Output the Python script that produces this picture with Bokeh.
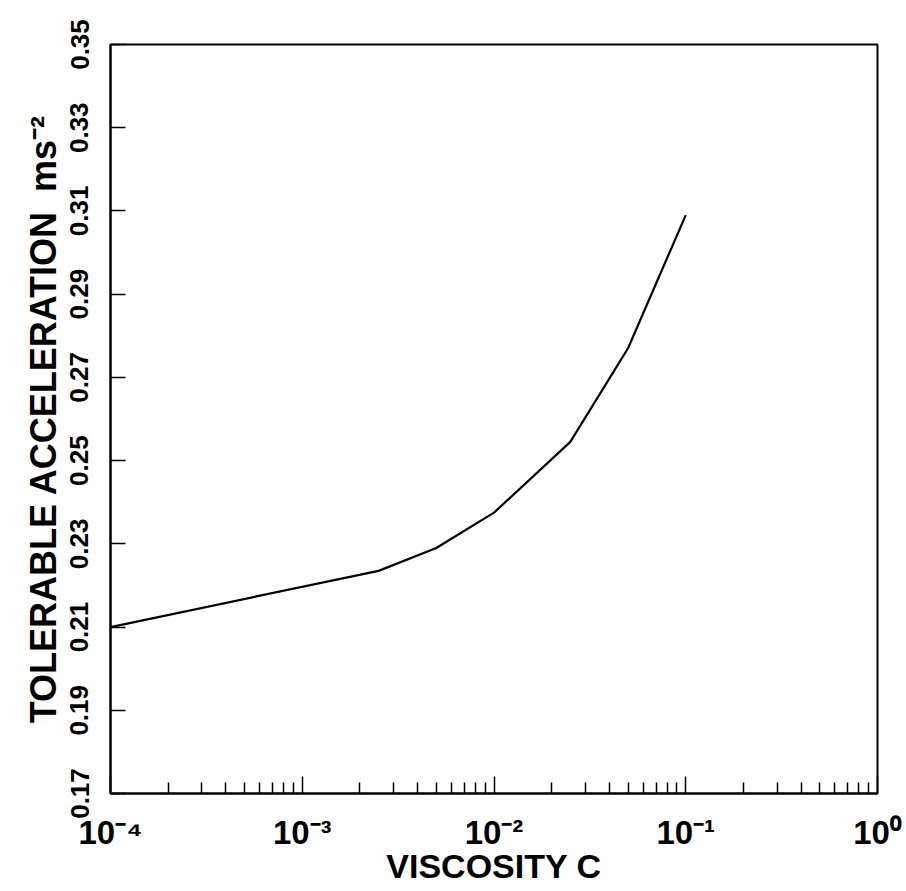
from bokeh.plotting import figure
from bokeh.models import FixedTicker, CustomJSTickFormatter
from bokeh.embed import file_html
from bokeh.resources import INLINE

# ---- data ----
viscosity = [1e-4, 2.5e-3, 5e-3, 1e-2, 2.5e-2, 5e-2, 1e-1]
tolerable_accel = [0.210, 0.2235, 0.229, 0.2375, 0.2545, 0.277, 0.309]

x_decades = [1e-4, 1e-3, 1e-2, 1e-1, 1e0]
x_tick_labels = ["10\u207b\u2074", "10\u207b\u00b3", "10\u207b\u00b2", "10\u207b\u00b9", "10\u2070"]
x_minor_mult = [2, 3, 4, 5, 6, 7, 8, 9]
y_ticks = [0.17, 0.19, 0.21, 0.23, 0.25, 0.27, 0.29, 0.31, 0.33, 0.35]
y_tick_labels = ["0.17", "0.19", "0.21", "0.23", "0.25", "0.27", "0.29", "0.31", "0.33", "0.35"]

x_title = "VISCOSITY C"
y_title = "TOLERABLE ACCELERATION\u00a0\u00a0ms\u207b\u00b2"

FONT = "Liberation Sans"

p = figure(width=906, height=891, x_axis_type="log",
           x_range=(x_decades[0], x_decades[-1]), y_range=(y_ticks[0], y_ticks[-1]),
           output_backend="svg", toolbar_location=None,
           min_border_left=110, min_border_right=29, min_border_top=44, min_border_bottom=98)
p.grid.visible = False
p.background_fill_color = "white"
p.border_fill_color = "white"
p.outline_line_color = "black"
p.outline_line_width = 2
p.outline_line_alpha = 1.0

# x axis
minor = [m * d for d in x_decades[:-1] for m in x_minor_mult]
xa = p.xaxis[0]
xa.ticker = FixedTicker(ticks=x_decades, minor_ticks=minor)
xa.formatter = CustomJSTickFormatter(args=dict(tvals=x_decades, tlabels=x_tick_labels), code="""
let best = 0;
for (let i = 0; i < tvals.length; i++) {
  if (Math.abs(Math.log10(tick) - Math.log10(tvals[i])) <
      Math.abs(Math.log10(tick) - Math.log10(tvals[best]))) { best = i; }
}
return tlabels[best];
""")
xa.axis_line_width = 2
xa.axis_line_color = "black"
xa.major_tick_in = 17
xa.major_tick_out = 0
xa.minor_tick_in = 11
xa.minor_tick_out = 0
xa.major_tick_line_width = 1.5
xa.minor_tick_line_width = 1.5
xa.major_label_text_font = FONT
xa.major_label_text_font_style = "bold"
xa.major_label_text_font_size = "33px"
xa.major_label_text_color = "black"
xa.major_label_standoff = 20
xa.axis_label = x_title
xa.axis_label_text_font = FONT
xa.axis_label_text_font_style = "bold"
xa.axis_label_text_font_size = "34px"
xa.axis_label_text_color = "black"
xa.axis_label_standoff = -7

# y axis
ya = p.yaxis[0]
ya.ticker = FixedTicker(ticks=y_ticks)
ya.formatter = CustomJSTickFormatter(args=dict(tvals=y_ticks, tlabels=y_tick_labels), code="""
let best = 0;
for (let i = 0; i < tvals.length; i++) {
  if (Math.abs(tick - tvals[i]) < Math.abs(tick - tvals[best])) { best = i; }
}
return tlabels[best];
""")
ya.axis_line_width = 2
ya.axis_line_color = "black"
ya.major_tick_in = 15
ya.major_tick_out = 0
ya.minor_tick_line_color = None
ya.major_tick_line_width = 1.5
ya.major_label_orientation = "vertical"
ya.major_label_text_font = FONT
ya.major_label_text_font_style = "bold"
ya.major_label_text_font_size = "26px"
ya.major_label_text_color = "black"
ya.major_label_standoff = 22
ya.axis_label = y_title
ya.axis_label_text_font = FONT
ya.axis_label_text_font_style = "bold"
ya.axis_label_text_font_size = "36px"
ya.axis_label_text_color = "black"
ya.axis_label_standoff = 4

p.line(viscosity, tolerable_accel, line_color="black", line_width=2.2)

open("out.html", "w").write(file_html(p, INLINE))
